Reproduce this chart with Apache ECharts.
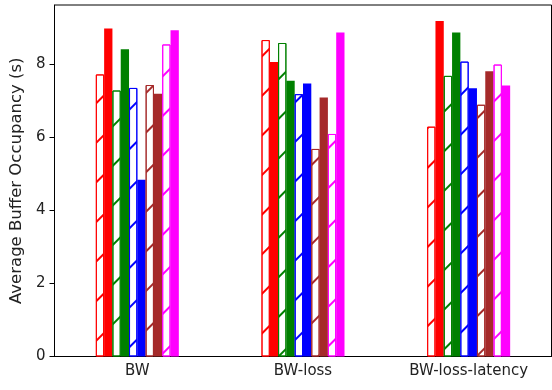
<!DOCTYPE html>
<html style="height: 100%">
<head>
    <meta charset="utf-8">
</head>
<body style="height: 100%; margin: 0; background: #fff">
<div id="container" style="width: 552px; height: 390px"></div>
<script type="text/javascript" src="https://cdn.jsdelivr.net/npm/echarts@6/dist/echarts.min.js"></script>
<script type="text/javascript">
  const categories = ['BW', 'BW-loss', 'BW-loss-latency'];
  const yTicks = [0, 2, 4, 6, 8];

  // pairs: hatched (outline) bar then solid bar, per colour
  const redHatch = [7.72, 8.66, 6.29];
  const redSolid = [8.98, 8.06, 9.18];
  const greenHatch = [7.28, 8.58, 7.68];
  const greenSolid = [8.41, 7.55, 8.87];
  const blueHatch = [7.35, 7.18, 8.07];
  const blueSolid = [4.84, 7.47, 7.34];
  const brownHatch = [7.43, 5.68, 6.89];
  const brownSolid = [7.19, 7.09, 7.81];
  const magentaHatch = [8.54, 6.09, 7.99];
  const magentaSolid = [8.93, 8.87, 7.42];

  const colors = ['#ff0000', '#008000', '#0000ff', '#a52a2a', '#ff00ff'];
  const seriesData = [
    [redHatch, redSolid],
    [greenHatch, greenSolid],
    [blueHatch, blueSolid],
    [brownHatch, brownSolid],
    [magentaHatch, magentaSolid]
  ];

  function hatched (values, c) {
    return {
      type: 'bar',
      data: values,
      barWidth: 8.3,
      barGap: '0%',
      itemStyle: {
        color: '#fff',
        borderColor: c,
        borderWidth: 1,
        decal: {
          symbol: 'rect',
          symbolSize: 1,
          color: c,
          backgroundColor: 'rgba(0,0,0,0)',
          dashArrayX: [1, 0],
          dashArrayY: [1.1, 26],
          rotation: -Math.PI / 4
        }
      }
    };
  }
  function solid (values, c) {
    return {
      type: 'bar',
      data: values,
      barWidth: 8.3,
      barGap: '0%',
      itemStyle: { color: c }
    };
  }

  const series = [];
  seriesData.forEach((pair, i) => {
    series.push(hatched(pair[0], colors[i]));
    series.push(solid(pair[1], colors[i]));
  });

  var dom = document.getElementById("container");
  var myChart = echarts.init(dom, null, { renderer: 'canvas' });
  var option = {
    animation: false,
    textStyle: { fontFamily: 'DejaVu Sans' },
    grid: {
      left: 54.5, right: 0.5, top: 5, bottom: 33.5,
      show: true, borderColor: '#000', borderWidth: 1, backgroundColor: 'transparent'
    },
    xAxis: {
      type: 'category',
      data: categories,
      axisLine: { lineStyle: { color: '#000', width: 1 } },
      axisTick: { alignWithLabel: true, length: 5, lineStyle: { color: '#000' } },
      axisLabel: { color: '#222', fontSize: 15, margin: 7, fontFamily: 'DejaVu Sans' },
      splitLine: { show: false }
    },
    yAxis: {
      type: 'value',
      min: 0,
      max: 9.62,
      interval: 2,
      name: 'Average Buffer Occupancy (s)',
      nameLocation: 'middle',
      nameGap: 21,
      nameTextStyle: { color: '#222', fontSize: 16.5, fontFamily: 'DejaVu Sans' },
      axisLine: { show: true, lineStyle: { color: '#000', width: 1 } },
      axisTick: { show: true, length: 5, customValues: yTicks, lineStyle: { color: '#000' } },
      axisLabel: { color: '#222', fontSize: 15, margin: 9, customValues: yTicks, fontFamily: 'DejaVu Sans' },
      splitLine: { show: false }
    },
    series: series
  };
  myChart.setOption(option);
</script>
</body>
</html>
